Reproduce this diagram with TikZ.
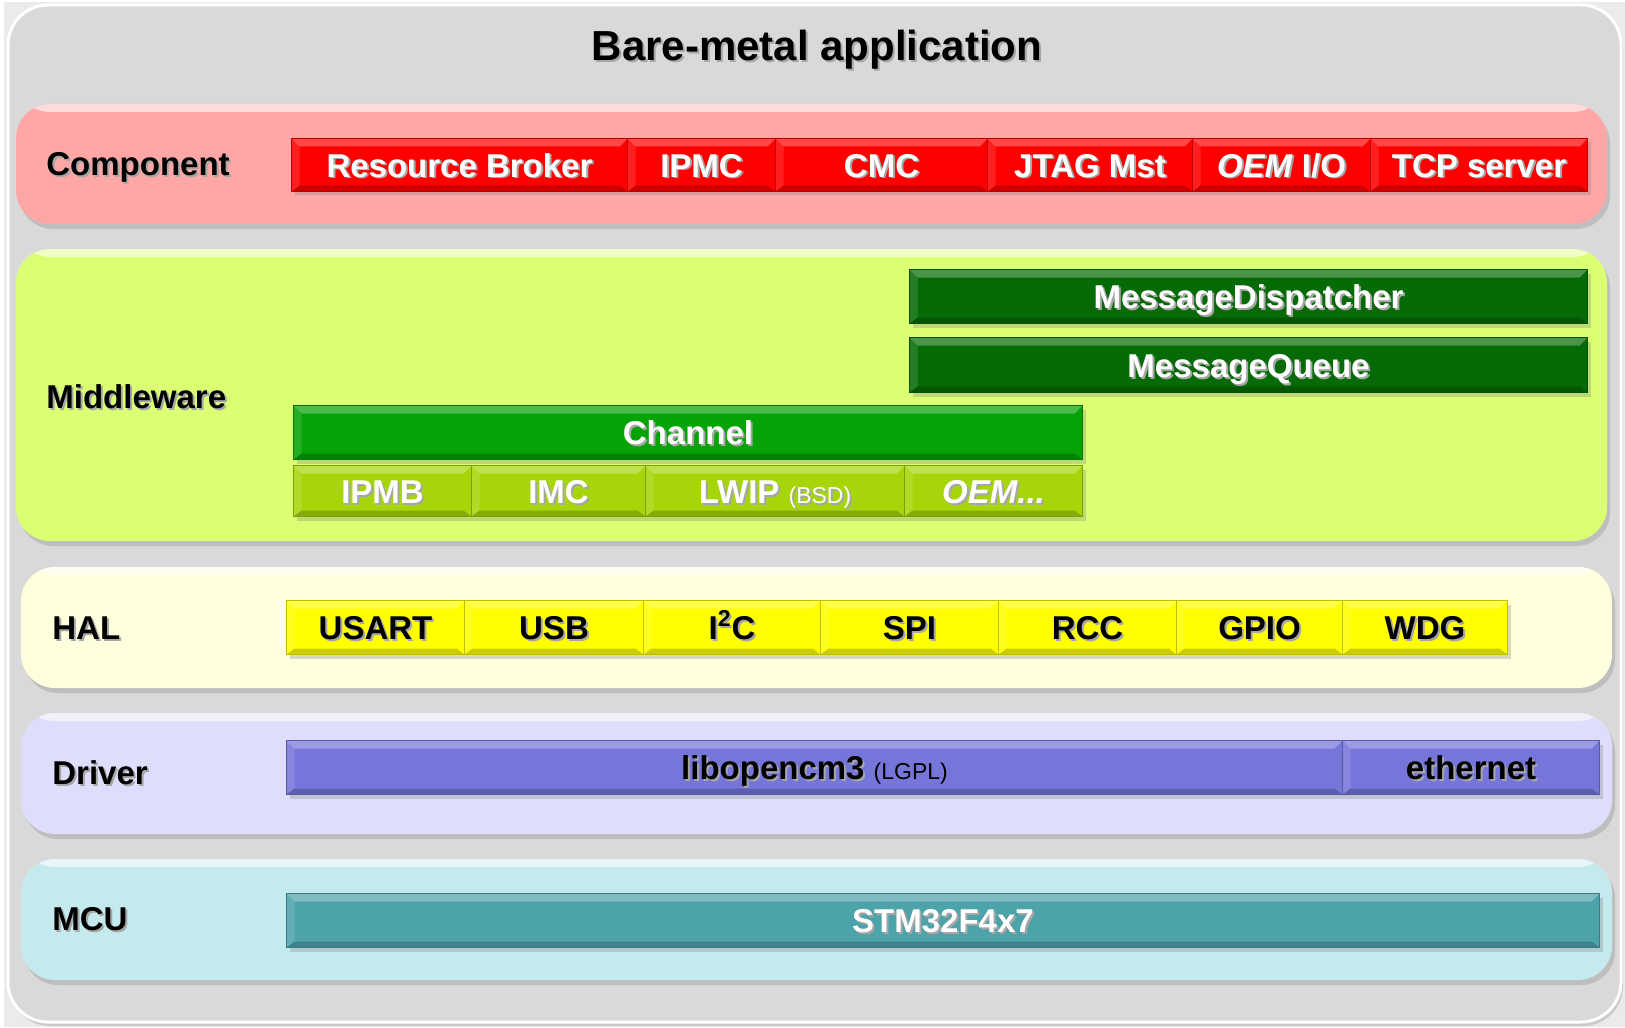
\documentclass[tikz,border=0pt]{standalone}
\usepackage{fontspec}
\setmainfont{Liberation Sans}
\usetikzlibrary{positioning,shadows}
\definecolor{bmgrey}{HTML}{D9D9D9}
\definecolor{compband}{HTML}{FFA6A6}
\definecolor{compbox}{HTML}{FF0000}
\definecolor{midband}{HTML}{DAFF72}
\definecolor{midboxdark}{HTML}{066B06}
\definecolor{midbox}{HTML}{06A306}
\definecolor{midboxlime}{HTML}{A6D60A}
\definecolor{halband}{HTML}{FFFFDD}
\definecolor{halbox}{HTML}{FFFF00}
\definecolor{drvband}{HTML}{DEDEFC}
\definecolor{drvbox}{HTML}{7676DA}
\definecolor{mcuband}{HTML}{C5EAED}
\definecolor{mcubox}{HTML}{4DA3AA}

% text with a soft offset shadow
\newcommand\shd[1]{\makebox[0pt][l]{\kern1pt\raisebox{-1pt}{\textcolor{black!35}{#1}}}#1}
\newcommand\smallfont{\fontsize{11.5}{13}\mdseries\selectfont}

\begin{document}
\begin{tikzpicture}[x=0.5pt,y=-0.5pt,
  band/.style={rounded corners=17pt, fill=#1,
    drop shadow={shadow xshift=1.5pt,shadow yshift=-2.5pt,opacity=.3},
    path picture={\fill[white,opacity=.6] (path picture bounding box.north west)
      rectangle ([yshift=-4pt]path picture bounding box.north east);}},
  bevel/.style={path picture={
    \coordinate (pnw) at (path picture bounding box.north west);
    \coordinate (pne) at (path picture bounding box.north east);
    \coordinate (psw) at (path picture bounding box.south west);
    \coordinate (pse) at (path picture bounding box.south east);
    \fill[white,opacity=.28] (pnw) -- (pne) -- ([shift={(-4pt,-4pt)}]pne) -- ([shift={(4pt,-4pt)}]pnw) -- cycle;
    \fill[white,opacity=.12] (pnw) -- ([shift={(4pt,-4pt)}]pnw) -- ([shift={(4pt,3pt)}]psw) -- (psw) -- cycle;
    \fill[black,opacity=.2] (psw) -- (pse) -- ([shift={(-4pt,3pt)}]pse) -- ([shift={(4pt,3pt)}]psw) -- cycle;}},
  blk/.style={rectangle, inner sep=0pt, fill=#1, draw=#1!75!black, line width=0.5pt, bevel,
    anchor=north west, text height=12pt, text depth=0pt,
    font=\fontsize{16.5}{19}\bfseries\selectfont,
    drop shadow={shadow xshift=1.5pt,shadow yshift=-2pt,opacity=.3}},
  wd/.style={minimum width={(#1)*0.5pt}},
  ht/.style={minimum height={(#1)*0.5pt}},
  layername/.style={anchor=west, inner sep=0pt, text height=12pt, text depth=0pt,
    font=\fontsize{16.5}{19}\bfseries\selectfont}]

  \useasboundingbox (0,0) rectangle (1625,1027);
  % outer panel
  \fill[white!92!black] (4,2) rectangle (1625,1027);
  \draw[rounded corners=20pt, fill=bmgrey, draw=white, line width=1.5pt,
    drop shadow={shadow xshift=1pt,shadow yshift=-2pt,opacity=.3}] (8,5) rectangle (1621,1022);
  \node[font=\fontsize{21}{24}\bfseries\selectfont] (title) at (817,51) {\shd{Bare-metal application}};

  % layer bands
  \path[band=compband] (16,104) rectangle (1607,224);
  \path[band=midband]  (16,249) rectangle (1607,541);
  \path[band=halband]  (21,567) rectangle (1612,688);
  \path[band=drvband]  (21,713) rectangle (1612,834);
  \path[band=mcuband]  (21,859) rectangle (1612,980);

  \node[layername] (lcomp) at (46,164) {\shd{Component}};
  \node[layername] (lmid)  at (46,396) {\shd{Middleware}};
  \node[layername] (lhal)  at (52,627) {\shd{HAL}};
  \node[layername] (ldrv)  at (52,772) {\shd{Driver}};
  \node[layername] (lmcu)  at (52,918) {\shd{MCU}};

  % components
  \foreach \xa/\xb/\txt/\nm in {291/627/{Resource Broker}/broker, 627/775/IPMC/ipmc,
      775/987/CMC/cmc, 987/1192/{JTAG Mst}/jtag, 1192/1370/{\textit{OEM} I/O}/oemio,
      1370/1587/{TCP server}/tcp}{
    \node[blk=compbox, text=white, wd={\xb-\xa}, ht=53] (\nm) at (\xa,138) {\shd{\txt}};
  }

  % middleware
  \node[blk=midboxdark, text=white, wd=678, ht=54] (dispatch) at (909,269) {\shd{MessageDispatcher}};
  \node[blk=midboxdark, text=white, wd=678, ht=55] (queue) at (909,337) {\shd{MessageQueue}};
  \node[blk=midbox, text=white, wd=789, ht=54] (channel) at (293,405) {\shd{Channel}};
  \foreach \xa/\xb/\txt/\nm in {293/471/IPMB/ipmb, 471/645/IMC/imc,
      645/904/{LWIP {\smallfont(BSD)}}/lwip, 904/1082/{\textit{OEM...}}/oem}{
    \node[blk=midboxlime, text=white, wd={\xb-\xa}, ht=51] (\nm) at (\xa,465) {\shd{\txt}};
  }

  % hal
  \foreach \xa/\xb/\txt/\nm in {286/464/USART/usart, 464/643/USB/usb,
      643/820/{I\textsuperscript{2}C}/itwoc, 820/998/SPI/spi, 998/1176/RCC/rcc,
      1176/1342/GPIO/gpio, 1342/1507/WDG/wdg}{
    \node[blk=halbox, wd={\xb-\xa}, ht=54] (\nm) at (\xa,600) {\shd{\txt}};
  }

  % driver
  \node[blk=drvbox, wd=1056, ht=54] (libocm) at (286,740) {\shd{libopencm3} {\smallfont(LGPL)}};
  \node[blk=drvbox, wd=257, ht=54] (eth) at (1342,740) {\shd{ethernet}};

  % mcu
  \node[blk=mcubox, text=white, wd=1313, ht=54] (stm) at (286,893) {\shd{STM32F4x7}};
\end{tikzpicture}
\end{document}
